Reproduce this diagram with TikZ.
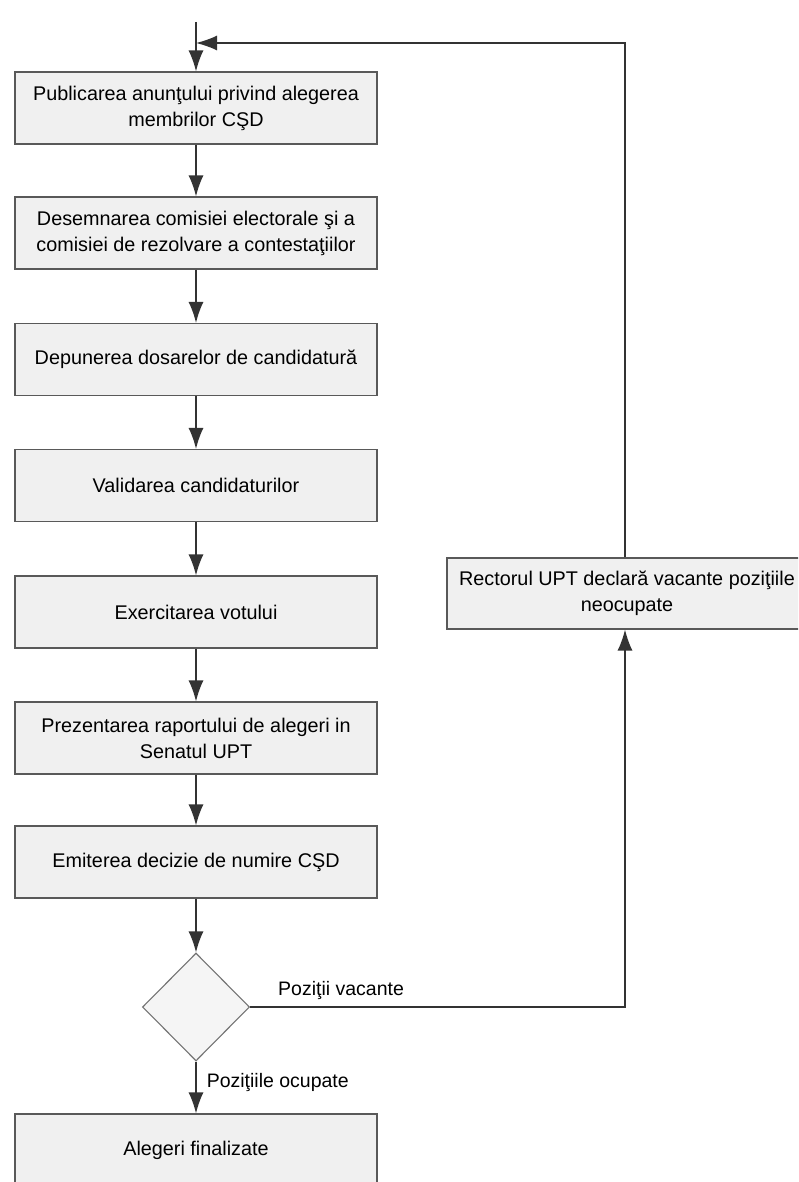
\documentclass[tikz,border=0pt]{standalone}
\usepackage{fontspec}
\setmainfont{Liberation Sans}
\usetikzlibrary{arrows.meta,shapes.geometric}
\begin{document}
\begin{tikzpicture}[x=1pt,y=-1pt,
  stepbox/.style={rectangle,draw=black!65,line width=1.1pt,fill=black!6,
    minimum width=362pt,minimum height=72pt,align=center,inner sep=2pt,
    font=\fontsize{19.8}{26}\selectfont},
  decisionbox/.style={diamond,draw=black!55,line width=1.1pt,fill=black!4,
    minimum width=107pt,minimum height=108pt,inner sep=0pt},
  conn/.style={draw=black!80,line width=1.5pt,-{Latex[length=21pt,width=15pt]}},
  lbl/.style={font=\fontsize{19.5}{24}\selectfont,anchor=west,inner sep=0pt}]
\clip (0,0) rectangle (798,1182);
\fill[white] (0,0) rectangle (798,1182);

\node[stepbox] (b1) at (196,108) {Publicarea anunţului privind alegerea\\membrilor CŞD};
\node[stepbox] (b2) at (196,233) {Desemnarea comisiei electorale şi a\\comisiei de rezolvare a contestaţiilor};
\node[stepbox] (b3) at (196,359.5) {Depunerea dosarelor de candidatură};
\node[stepbox] (b4) at (196,485.5) {Validarea candidaturilor};
\node[stepbox] (b5) at (196,612) {Exercitarea votului};
\node[stepbox] (b6) at (196,738) {Prezentarea raportului de alegeri in\\Senatul UPT};
\node[stepbox] (b7) at (196,862) {Emiterea decizie de numire CŞD};
\node[decisionbox] (d) at (196,1007) {};
\node[stepbox] (fin) at (196,1150) {Alegeri finalizate};
\node[stepbox,minimum width=360pt,minimum height=71pt] (r) at (627,593.5) {Rectorul UPT declară vacante poziţiile\\neocupate};

\coordinate (start) at (196,22);
\coordinate (join) at (196,43);
\coordinate (tr) at (625,43);
\coordinate (br) at (625,1007);

\draw[conn] (start) -- (b1.north);
\draw[conn] (b1) -- (b2);
\draw[conn] (b2) -- (b3);
\draw[conn] (b3) -- (b4);
\draw[conn] (b4) -- (b5);
\draw[conn] (b5) -- (b6);
\draw[conn] (b6) -- (b7);
\draw[conn] (b7.south) -- (d.north);
\draw[conn] (d.south) -- node[lbl,right=10pt,pos=0.4] {Poziţiile ocupate} (fin.north);
\draw[conn] (d.east) -- (br) -- (r.south -| br);
\draw[conn] (r.north -| tr) -- (tr) -- (join);
\node[lbl,anchor=south west] (lv) at (278,1000) {Poziţii vacante};
\end{tikzpicture}
\end{document}
